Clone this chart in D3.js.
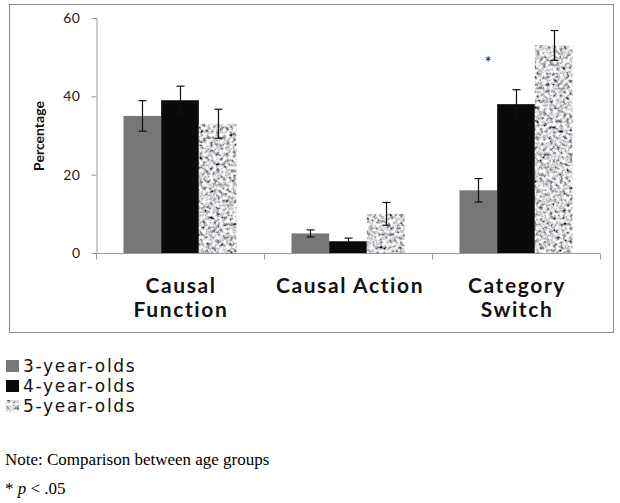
<!DOCTYPE html>
<html>
<head>
<meta charset="utf-8">
<script src="https://cdn.jsdelivr.net/npm/d3@7/dist/d3.min.js"></script>
<style>
  html, body { margin: 0; padding: 0; background: #fff; }
  svg { display: block; }
</style>
</head>
<body>
<svg id="chart" width="620" height="503"></svg>
<script>
// ---- data ----
const categories = ["Causal Function", "Causal Action", "Category Switch"];
const categoryLines = [["Causal", "Function"], ["Causal Action"], ["Category", "Switch"]];
const seriesNames = ["3-year-olds", "4-year-olds", "5-year-olds"];
const values3 = [35, 5, 16];
const values4 = [39, 3, 38];
const values5 = [33, 10, 53];
const err3 = [3.9, 0.9, 3.0];
const err4 = [3.6, 0.8, 3.7];
const err5 = [3.7, 2.9, 3.8];
const yTicks = [0, 20, 40, 60];
const yLabel = "Percentage";
const starCategory = "Category Switch";
const starValue = 49;
const noteText = "Note: Comparison between age groups";

// ---- setup ----
const svg = d3.select("#chart");
const x0 = 96, x1 = 600, yTop = 18, yBottom = 253;

const x = d3.scaleBand().domain(categories).range([x0, x1]).paddingInner(0).paddingOuter(0);
const xs = d3.scaleBand().domain(seriesNames).range([0, x.bandwidth()]).paddingOuter(0.73).paddingInner(0);
const y = d3.scaleLinear().domain([0, 60]).range([yBottom, yTop]);

const defs = svg.append("defs");
const f = defs.append("filter").attr("id", "noise")
  .attr("x", 0).attr("y", 0).attr("width", "100%").attr("height", "100%")
  .attr("filterUnits", "objectBoundingBox");
f.append("feTurbulence").attr("type", "fractalNoise").attr("baseFrequency", "0.3")
  .attr("numOctaves", 2).attr("seed", 7).attr("result", "t");
f.append("feColorMatrix").attr("in", "t").attr("type", "matrix")
  .attr("values", "2.2 0 0 0 -0.44  2.2 0 0 0 -0.44  2.2 0 0 0 -0.42  0 0 0 0 1")
  .attr("result", "g");
f.append("feComposite").attr("in", "g").attr("in2", "SourceGraphic").attr("operator", "in");

// frame
svg.append("rect").attr("x", 9.5).attr("y", 4.5).attr("width", 604).attr("height", 328)
  .attr("fill", "none").attr("stroke", "#8c8c8c").attr("stroke-width", 1);

// y axis
const yAxis = d3.axisLeft(y).tickValues(yTicks).tickSize(5).tickPadding(11);
const gy = svg.append("g").attr("transform", `translate(${x0 + 0.5},0)`).call(yAxis);
gy.select(".domain").attr("stroke", "#9a9a9a");
gy.selectAll(".tick line").attr("stroke", "#9a9a9a");
gy.selectAll(".tick text").attr("font-family", "Lato, 'Open Sans', sans-serif")
  .attr("font-size", 14).attr("letter-spacing", 0.5).attr("fill", "#222");

// x axis (category boundaries as ticks)
const gx = svg.append("g").attr("transform", `translate(0,${yBottom + 0.5})`);
gx.append("line").attr("x1", x0).attr("x2", x1).attr("stroke", "#9a9a9a");
const boundaries = categories.map(c => x(c)).concat([x1]);
gx.selectAll("line.b").data(boundaries).join("line").attr("class", "b")
  .attr("x1", d => Math.round(d) + 0.5).attr("x2", d => Math.round(d) + 0.5)
  .attr("y1", 0).attr("y2", 6).attr("stroke", "#9a9a9a");

// bars
const series = [
  { name: seriesNames[0], values: values3, err: err3, fill: "#777777", filter: null },
  { name: seriesNames[1], values: values4, err: err4, fill: "#0a0a0a", filter: null },
  { name: seriesNames[2], values: values5, err: err5, fill: "#bbbbbb", filter: "url(#noise)" }
];
series.forEach(s => {
  const g = svg.append("g");
  g.selectAll("rect").data(categories).join("rect")
    .attr("x", (c) => x(c) + xs(s.name))
    .attr("y", (c, i) => y(s.values[i]))
    .attr("width", xs.bandwidth())
    .attr("height", (c, i) => y(0) - y(s.values[i]))
    .attr("fill", s.fill)
    .attr("filter", s.filter);
});
// error bars
series.forEach(s => {
  const g = svg.append("g").attr("stroke", "#111").attr("stroke-width", 1.2);
  categories.forEach((c, i) => {
    const cx = Math.round(x(c) + xs(s.name) + xs.bandwidth() / 2) + 0.5;
    const hi = y(s.values[i] + s.err[i]), lo = y(s.values[i] - s.err[i]);
    g.append("line").attr("x1", cx).attr("x2", cx).attr("y1", hi).attr("y2", lo);
    g.append("line").attr("x1", cx - 4).attr("x2", cx + 4).attr("y1", hi).attr("y2", hi);
    g.append("line").attr("x1", cx - 4).attr("x2", cx + 4).attr("y1", lo).attr("y2", lo);
  });
});

// asterisk
svg.append("text").attr("x", x(starCategory) + xs(seriesNames[0]) + xs.bandwidth() * 0.76)
  .attr("y", y(starValue) + 8)
  .attr("text-anchor", "middle").attr("font-family", "Lato, sans-serif").attr("font-size", 17)
  .attr("fill", "#111").text("*");

// y label
svg.append("text").attr("transform", "translate(44,136) rotate(-90)")
  .attr("text-anchor", "middle").attr("font-family", "Lato, sans-serif")
  .attr("font-weight", "bold").attr("font-size", 14).attr("fill", "#111").text(yLabel);

// category labels
categories.forEach((c, i) => {
  const t = svg.append("text").attr("text-anchor", "middle")
    .attr("font-family", "Lato, sans-serif").attr("font-weight", "bold")
    .attr("font-size", 21).attr("letter-spacing", 1.6).attr("fill", "#111");
  categoryLines[i].forEach((line, j) => {
    t.append("tspan").attr("x", x(c) + x.bandwidth() / 2 + (i === 1 ? 2 : 1))
      .attr("y", 293 + j * 24).text(line);
  });
});

// legend
const legFills = ["#777777", "#0a0a0a", "#bbbbbb"];
seriesNames.forEach((n, i) => {
  const ly = 372 + i * 20;
  svg.append("rect").attr("x", 6).attr("y", ly - 12).attr("width", 13).attr("height", 12)
    .attr("fill", legFills[i]).attr("filter", i === 2 ? "url(#noise)" : null);
  svg.append("text").attr("x", 23).attr("y", ly)
    .attr("font-family", "'DejaVu Sans', sans-serif").attr("font-size", 17)
    .attr("letter-spacing", 1.7).attr("fill", "#111").text(n);
});

// notes
svg.append("text").attr("x", 5).attr("y", 465)
  .attr("font-family", "'Liberation Serif', 'Times New Roman', serif").attr("font-size", 17)
  .attr("fill", "#000").text(noteText);
const pt = svg.append("text").attr("x", 5).attr("y", 494)
  .attr("font-family", "'Liberation Serif', 'Times New Roman', serif").attr("font-size", 17)
  .attr("fill", "#000");
pt.append("tspan").text("* ");
pt.append("tspan").attr("font-style", "italic").text("p");
pt.append("tspan").text(" < .05");
</script>
</body>
</html>
